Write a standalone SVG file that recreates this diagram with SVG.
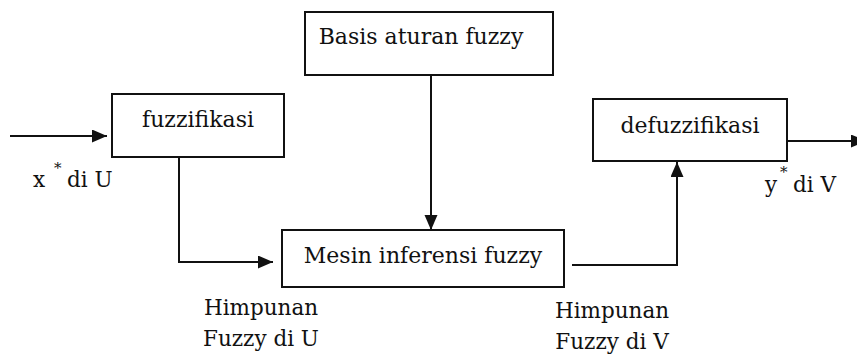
<svg xmlns="http://www.w3.org/2000/svg" width="857" height="355" viewBox="0 0 857 355">
  <style>
    .box { fill: #fff; stroke: #111; stroke-width: 2; }
    text { font-family: 'DejaVu Serif', 'Liberation Serif', 'Times New Roman', serif; fill: #111; }
    .lbl { font-size: 22px; }
    .lbl2 { font-size: 21.5px; }
    .sup { font-size: 15px; }
    .conn { fill: none; stroke: #111; stroke-width: 2; }
  </style>
  <defs>
    <marker id="arr" markerUnits="userSpaceOnUse" markerWidth="16" markerHeight="14" refX="15" refY="6.5" orient="auto">
      <path d="M0,0 L15,6.5 L0,13 Z" fill="#111"/>
    </marker>
  </defs>
  <rect width="857" height="355" fill="#fff"/>

  <g id="connectors">
    <path class="conn" d="M10,136 H107" marker-end="url(#arr)"/>
    <path class="conn" d="M179,157 V262 H273" marker-end="url(#arr)"/>
    <path class="conn" d="M431,75 V230" marker-end="url(#arr)"/>
    <path class="conn" d="M572,265 H677 V162" marker-end="url(#arr)"/>
    <path class="conn" d="M782,141 H866" marker-end="url(#arr)"/>
  </g>

  <g id="fuzzifikasi">
    <rect class="box" x="112" y="94" width="172" height="63"/>
    <text class="lbl" x="198" y="127" text-anchor="middle">fuzzifikasi</text>
  </g>

  <g id="basis">
    <rect class="box" x="305" y="12" width="248" height="63"/>
    <text class="lbl" x="421" y="44" text-anchor="middle">Basis aturan fuzzy</text>
  </g>

  <g id="mesin">
    <rect class="box" x="282" y="230" width="282" height="57"/>
    <text class="lbl" x="423" y="263" text-anchor="middle">Mesin inferensi fuzzy</text>
  </g>

  <g id="defuzzifikasi">
    <rect class="box" x="593" y="99" width="194" height="62"/>
    <text class="lbl" x="690" y="133" text-anchor="middle">defuzzifikasi</text>
  </g>

  <g id="labels">
    <text class="lbl2" x="33" y="187">x</text>
    <text class="sup" x="54" y="173">*</text>
    <text class="lbl2" x="67" y="187">di U</text>

    <text class="lbl2" x="765" y="192">y</text>
    <text class="sup" x="780" y="177">*</text>
    <text class="lbl2" x="793" y="192">di V</text>

    <text class="lbl2" x="261" y="315" text-anchor="middle">Himpunan</text>
    <text class="lbl2" x="261" y="346" text-anchor="middle">Fuzzy di U</text>

    <text class="lbl2" x="612" y="318" text-anchor="middle">Himpunan</text>
    <text class="lbl2" x="612" y="349" text-anchor="middle">Fuzzy di V</text>
  </g>
</svg>
